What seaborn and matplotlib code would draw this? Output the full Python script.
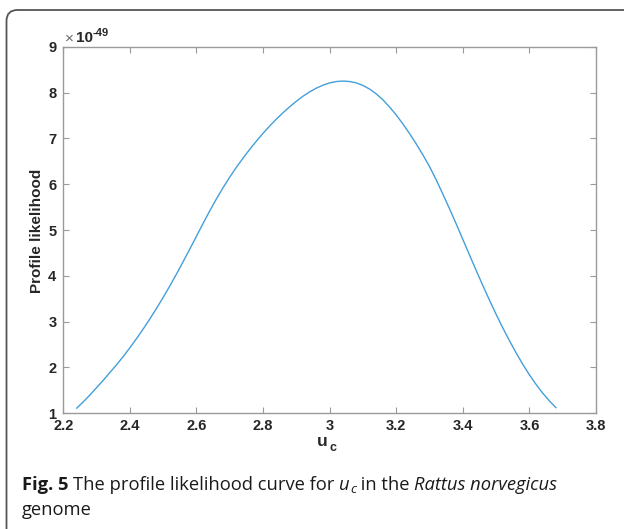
import numpy as np
import pandas as pd
import matplotlib
matplotlib.use("Agg")
import matplotlib.pyplot as plt
import seaborn as sns
from matplotlib.patches import FancyBboxPatch

# ---- data ----
u_c = [2.24, 2.26, 2.28, 2.30, 2.32, 2.34, 2.36, 2.38, 2.40, 2.42, 2.44, 2.46,
       2.48, 2.50, 2.52, 2.54, 2.56, 2.58, 2.60, 2.62, 2.64, 2.66, 2.68, 2.70,
       2.72, 2.74, 2.76, 2.78, 2.80, 2.82, 2.84, 2.86, 2.88, 2.90, 2.92, 2.94,
       2.96, 2.98, 3.00, 3.02, 3.04, 3.06, 3.08, 3.10, 3.12, 3.14, 3.16, 3.18,
       3.20, 3.22, 3.24, 3.26, 3.28, 3.30, 3.32, 3.34, 3.36, 3.38, 3.40, 3.42,
       3.44, 3.46, 3.48, 3.50, 3.52, 3.54, 3.56, 3.58, 3.60, 3.62, 3.64, 3.66,
       3.68]
likelihood_e49 = [1.11, 1.25, 1.40, 1.56, 1.72, 1.89, 2.06, 2.24, 2.43, 2.63,
                  2.84, 3.06, 3.29, 3.53, 3.78, 4.04, 4.31, 4.585, 4.865, 5.145,
                  5.42, 5.68, 5.925, 6.155, 6.37, 6.57, 6.76, 6.94, 7.11, 7.27,
                  7.42, 7.56, 7.69, 7.81, 7.92, 8.015, 8.095, 8.16, 8.21, 8.24,
                  8.25, 8.24, 8.21, 8.155, 8.075, 7.97, 7.84, 7.685, 7.51, 7.315,
                  7.105, 6.88, 6.64, 6.385, 6.095, 5.785, 5.465, 5.135, 4.795,
                  4.455, 4.12, 3.79, 3.47, 3.16, 2.865, 2.585, 2.32, 2.07, 1.84,
                  1.63, 1.44, 1.27, 1.12]
x_ticks = [2.2, 2.4, 2.6, 2.8, 3.0, 3.2, 3.4, 3.6, 3.8]
x_tick_labels = ["2.2", "2.4", "2.6", "2.8", "3", "3.2", "3.4", "3.6", "3.8"]
y_ticks = [1, 2, 3, 4, 5, 6, 7, 8, 9]
y_tick_labels = ["1", "2", "3", "4", "5", "6", "7", "8", "9"]

df = pd.DataFrame({"u_c": u_c, "lik": likelihood_e49})

sns.set_theme(style="white")
plt.rcParams["font.family"] = ["Liberation Sans", "DejaVu Sans"]

W, H = 624, 529
fig = plt.figure(figsize=(W / 100, H / 100), dpi=100)
fig.patch.set_facecolor("white")

# axes placement in pixels
L, R, T, B = 63.3, 596.0, 46.7, 413.3
ax = fig.add_axes([L / W, 1 - B / H, (R - L) / W, (B - T) / H])

sns.lineplot(data=df, x="u_c", y="lik", ax=ax, color="#439fdb",
             linewidth=1.0, sort=False)

ax.set_xlim(2.2, 3.8)
ax.set_ylim(1, 9)
ax.set_xticks(x_ticks)
ax.set_xticklabels(x_tick_labels)
ax.set_yticks(y_ticks)
ax.set_yticklabels(y_tick_labels)

spine_col = "#9a9a9a"
for s in ax.spines.values():
    s.set_color(spine_col)
    s.set_linewidth(1.0)
    s.set_visible(True)

ax.tick_params(axis="both", which="both", direction="in", length=4,
               width=0.8, color=spine_col, top=True, right=True,
               bottom=True, left=True, labelsize=10.5, labelcolor="#262626",
               pad=5)
for lab in ax.get_xticklabels() + ax.get_yticklabels():
    lab.set_fontweight("bold")
ax.tick_params(axis="x", pad=4)

ax.set_xlabel("")
ax.set_ylabel("")
ax.grid(False)

# axis labels
fig.text(36.7 / W, 1 - 231 / H, "Profile likelihood", rotation=90,
         ha="center", va="center", fontsize=11, fontweight="bold",
         color="#262626")
fig.text(322.5 / W, 1 - 442 / H, "u", ha="center", va="center",
         fontsize=12.5, fontweight="bold", color="#262626")
fig.text(333.5 / W, 1 - 448 / H, "c", ha="center", va="center",
         fontsize=9, fontweight="bold", color="#262626")

# exponent label
fig.text(65 / W, 1 - 38.5 / H, "\u00d7", ha="left", va="center",
         fontsize=11, color="#666666")
fig.text(76 / W, 1 - 38.5 / H, "10", ha="left", va="center",
         fontsize=11, fontweight="bold", color="#262626")
fig.text(92.5 / W, 1 - 33 / H, "-49", ha="left", va="center",
         fontsize=8, fontweight="bold", color="#262626")

# rounded frame (cut by the right and bottom edges)
frame = FancyBboxPatch((6.5, -30), 800, (H - 10) + 30,
                       boxstyle="round,pad=0,rounding_size=11",
                       transform=None, facecolor="none",
                       edgecolor="#555555", linewidth=1.3)
fig.add_artist(frame)

# caption built from pieces so mixed styles keep natural spacing
renderer = fig.canvas.get_renderer()
cap_size = 13.2
pieces = [
    ("Fig. 5 ", "bold", "normal", cap_size, 0),
    ("The profile likelihood curve for ", "normal", "normal", cap_size, 0),
    ("u", "normal", "italic", cap_size, 0),
    ("c", "normal", "italic", cap_size * 0.72, -3),
    (" in the ", "normal", "normal", cap_size, 0),
    ("Rattus norvegicus", "normal", "italic", cap_size, 0),
]
x_px = 22.0
base_px = H - 490
for txt, wt, st, sz, dy in pieces:
    t = fig.text(x_px / W, (base_px + dy) / H, txt, fontsize=sz,
                 fontweight=wt, fontstyle=st, family="Open Sans",
                 color="#1a1a1a", ha="left", va="baseline")
    bb = t.get_window_extent(renderer=renderer)
    x_px += bb.width
fig.text(22 / W, (H - 515) / H, "genome", fontsize=cap_size,
         family="Open Sans", color="#1a1a1a", ha="left", va="baseline")

fig.savefig("out.png", dpi=100)
